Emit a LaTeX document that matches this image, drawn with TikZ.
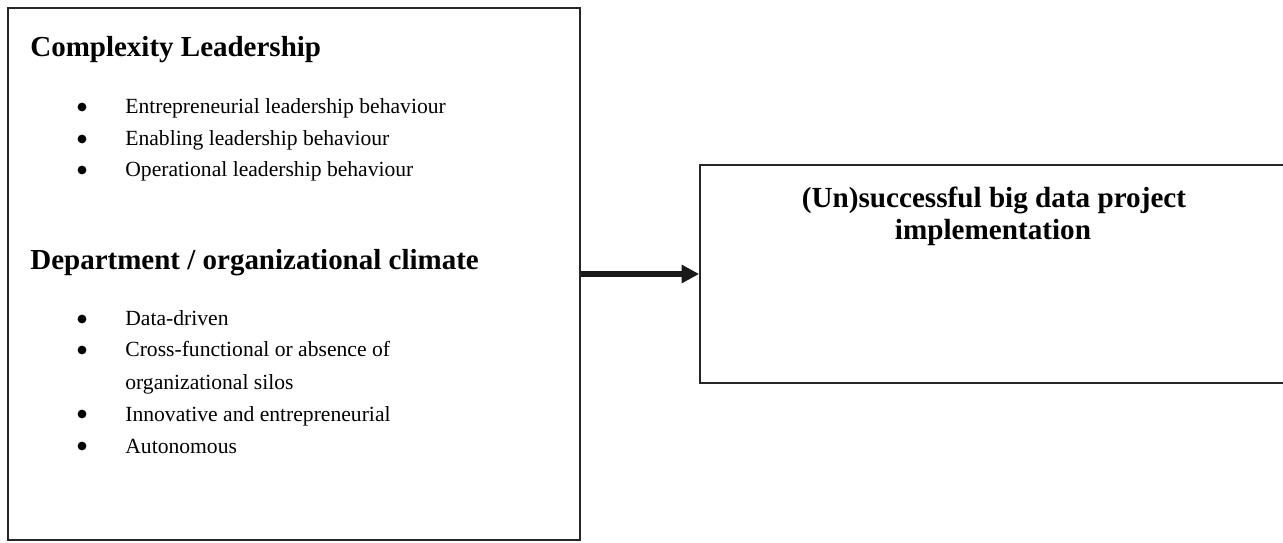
\documentclass[tikz,border=0pt]{standalone}
\usepackage{fontspec}
\setmainfont{Liberation Serif}
\usetikzlibrary{arrows.meta}

\begin{document}
\begin{tikzpicture}[x=0.02cm, y=-0.02cm,
		box/.style={draw=black!85, line width=1.1pt, inner sep=0pt},
		heading/.style={anchor=base west, inner sep=0pt, font=\fontsize{16.5}{20}\selectfont\bfseries},
		item/.style={anchor=base west, inner sep=0pt, font=\fontsize{12.3}{18}\selectfont},
		title/.style={anchor=base, inner sep=0pt, font=\fontsize{16.6}{20}\selectfont\bfseries},
		link/.style={line width=3.4pt, black!90, -{Triangle[length=10pt, width=10pt]}}]
				\clip (0,0) rectangle (1283,543);
				% boxes
				\node[box, minimum width=11.44cm, minimum height=10.64cm] (factors) at (294,274) {};
				\node[box, minimum width=11.8cm, minimum height=4.36cm] (outcome) at (995,274) {};

				% complexity leadership
				\node[heading] (lead) at (30,57) {Complexity Leadership};
				\foreach \y/\t [count=\i] in {114/Entrepreneurial leadership behaviour, 146/Enabling leadership behaviour, 177/Operational leadership behaviour}
				{
					\fill (82,\y-7) circle (2.5pt);
					\node[item] (lead\i) at (125,\y) {\t};
				}

				% climate
				\node[heading] (clim) at (30,270) {Department / organizational climate};
				\foreach \y/\t [count=\i] in {326/Data-driven, 357/Cross-functional or absence of, 421/Innovative and entrepreneurial, 453/Autonomous}
				{
					\fill (82,\y-7) circle (2.5pt);
					\node[item] (clim\i) at (125,\y) {\t};
				}
				\node[item] (clim2b) at (125,389) {organizational silos};

				% outcome text
				\node[title] (out1) at (994,208) {(Un)successful big data project};
				\node[title] (out2) at (993,240) {implementation};

				\draw[link] (factors.east) -- (outcome.west);
			\end{tikzpicture}
\end{document}
